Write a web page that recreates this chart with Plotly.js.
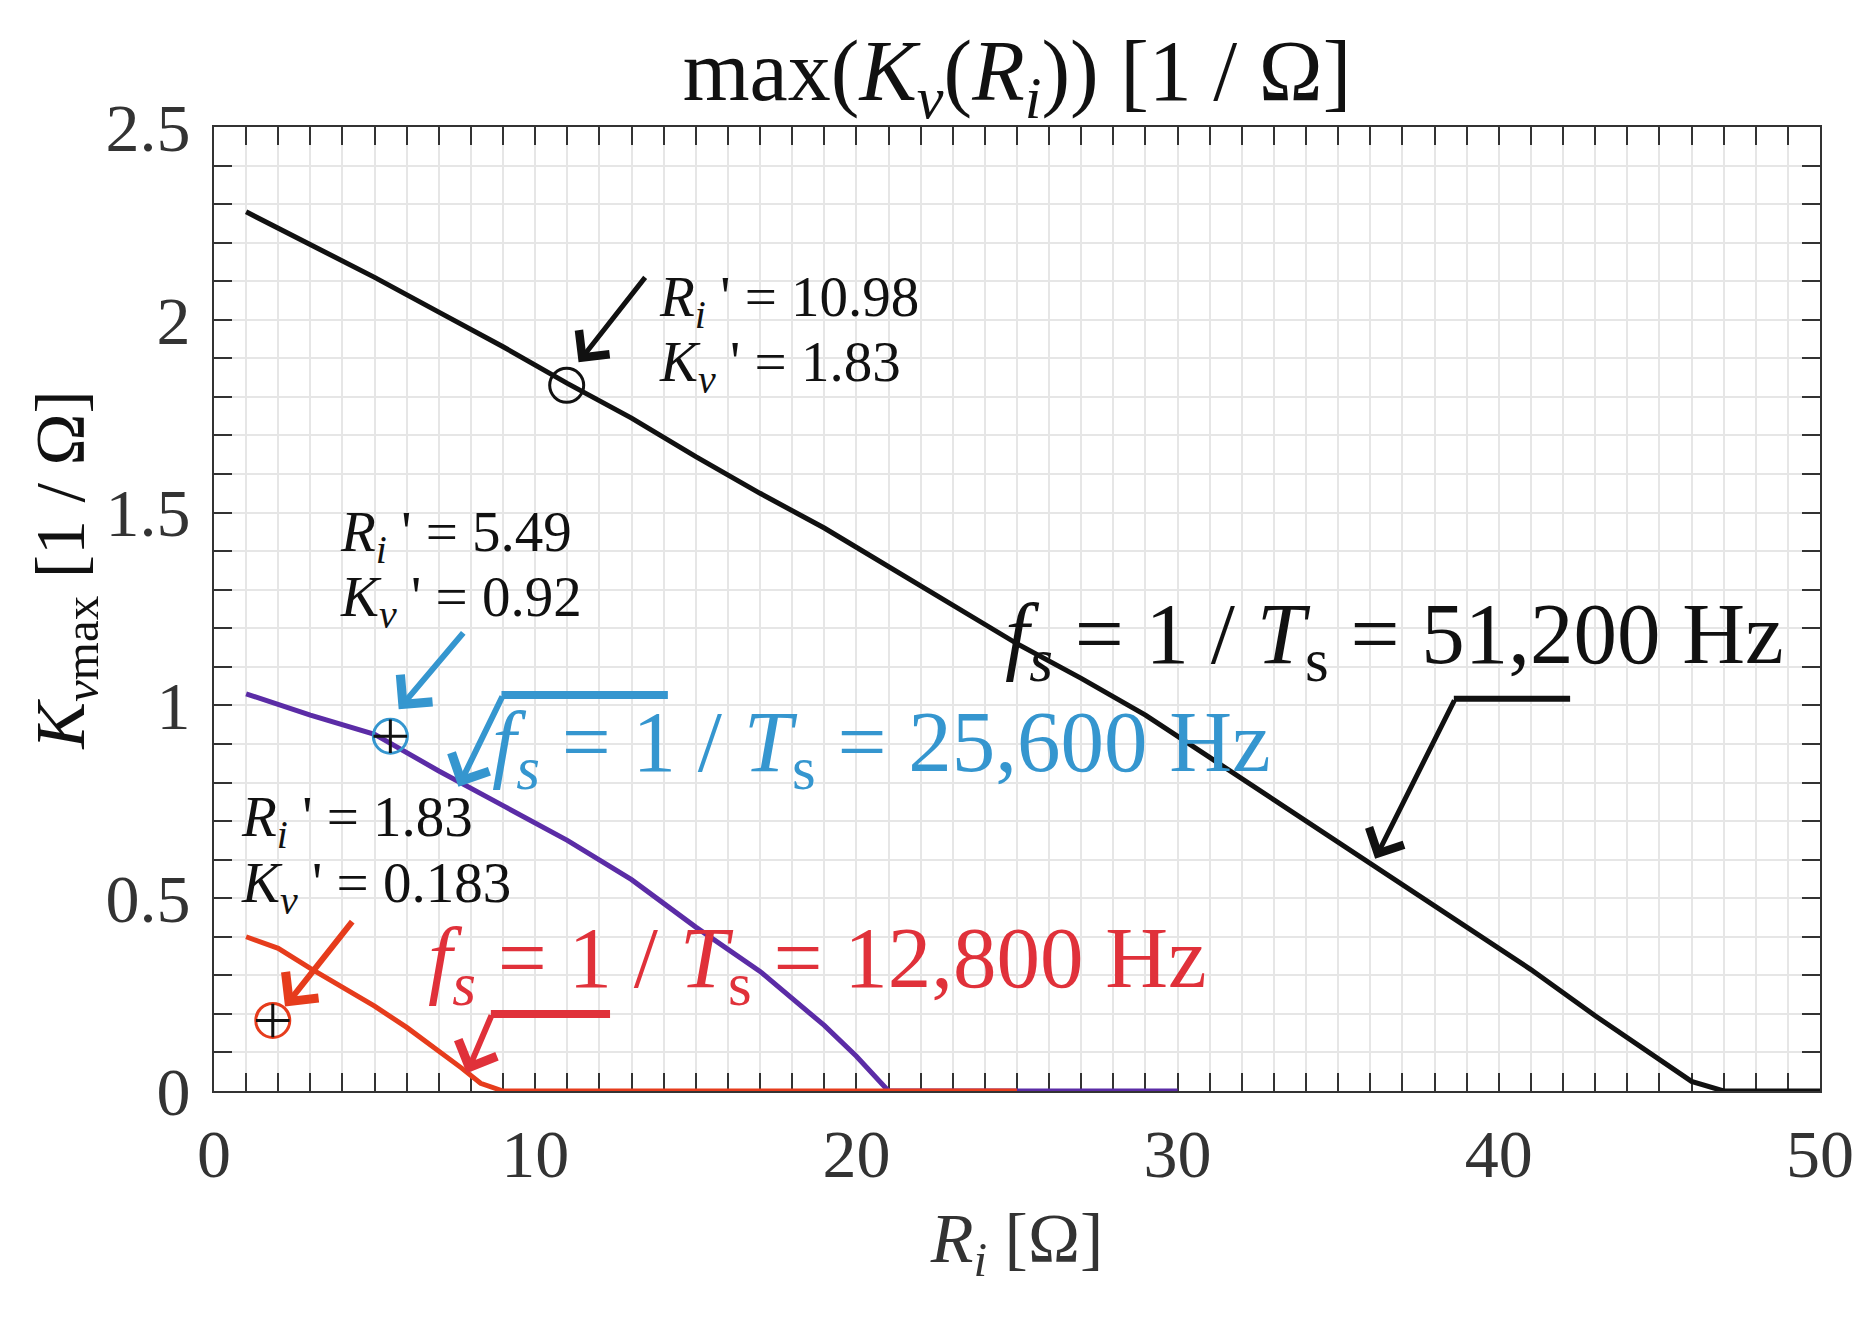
<!DOCTYPE html>
<html>
<head>
<meta charset="utf-8">
<script src="https://cdn.plot.ly/plotly-3.0.1.min.js"></script>
<style>html,body{margin:0;padding:0;background:#fff;}</style>
</head>
<body>
<div id="chart" style="width:1874px;height:1323px;"></div>
<script>
// ---- data ----
const r51 = [1, 3, 5, 7, 9, 11, 13, 15, 17, 19, 21, 23, 25, 27, 29, 31, 33, 35, 37, 39, 41, 43, 45, 46, 47, 50];
const k51 = [2.28, 2.195, 2.11, 2.02, 1.93, 1.835, 1.745, 1.645, 1.55, 1.46, 1.36, 1.26, 1.16, 1.07, 0.975, 0.865, 0.755, 0.645, 0.535, 0.425, 0.315, 0.195, 0.08, 0.025, 0, 0];

const r25 = [1, 3, 5, 7, 9, 11, 13, 15, 17, 18, 19, 20, 21, 30];
const k25 = [1.03, 0.975, 0.925, 0.83, 0.74, 0.65, 0.548, 0.425, 0.31, 0.24, 0.17, 0.09, 0, 0];

const r12 = [1, 2, 3, 4, 5, 6, 7, 7.7, 8.3, 9, 25];
const k12 = [0.40, 0.37, 0.318, 0.27, 0.22, 0.165, 0.105, 0.06, 0.02, 0, 0];

const seriesNames = ['f_s = 51,200 Hz', 'f_s = 25,600 Hz', 'f_s = 12,800 Hz'];

// marked optimum points
const optR = [10.98, 5.49, 1.83];
const optK = [1.83, 0.92, 0.183];
const optLabelR = ['10.98', '5.49', '1.83'];
const optLabelK = ['1.83', '0.92', '0.183'];

const xTitle = '<i>R</i><sub><i>i</i></sub> [Ω]';
const yTitle = '<i>K</i><sub><i>v</i>max</sub> [1 / Ω]';
const mainTitle = 'max(<i>K</i><sub><i>v</i></sub>(<i>R</i><sub><i>i</i></sub>)) [1 / Ω]';

// ---- styling ----
const SERIF = 'Liberation Serif, Times New Roman, serif';
const BLACK = '#111111';
const PURPLE = '#5b2ca6';
const BLUE = '#3596cf';
const RED_LINE = '#e63c1c';
const RED_TEXT = '#e0313a';

const traces = [
  {x: r51, y: k51, mode: 'lines', name: seriesNames[0], line: {color: BLACK, width: 5}},
  {x: r25, y: k25, mode: 'lines', name: seriesNames[1], line: {color: PURPLE, width: 5}},
  {x: r12, y: k12, mode: 'lines', name: seriesNames[2], line: {color: RED_LINE, width: 5}},
  // circles at optimum points
  {x: [optR[0]], y: [optK[0]], mode: 'markers', showlegend: false, cliponaxis: false,
   marker: {symbol: 'circle-open', size: 34, color: BLACK, line: {width: 3, color: BLACK}}},
  {x: [optR[1]], y: [optK[1]], mode: 'markers', showlegend: false, cliponaxis: false,
   marker: {symbol: 'circle-open', size: 34, color: BLUE, line: {width: 3, color: BLUE}}},
  {x: [optR[2]], y: [optK[2]], mode: 'markers', showlegend: false, cliponaxis: false,
   marker: {symbol: 'circle-open', size: 34, color: RED_LINE, line: {width: 3, color: RED_LINE}}},
  {x: [optR[1], optR[2]], y: [optK[1], optK[2]], mode: 'markers', showlegend: false, cliponaxis: false,
   marker: {symbol: 'cross-thin-open', size: 24, color: BLACK, line: {width: 3, color: BLACK}}}
];

function labelAnn(x, y, text, color, size) {
  return {x: x, y: y, xref: 'x', yref: 'y', text: text, showarrow: false,
          xanchor: 'left', yanchor: 'middle', font: {family: SERIF, size: size, color: color}};
}
function arrowAnn(hx, hy, tx, ty, color, width, size) {
  return {x: hx, y: hy, ax: tx, ay: ty, xref: 'x', yref: 'y', axref: 'x', ayref: 'y',
          text: '', showarrow: true, arrowhead: 4, arrowsize: size, arrowwidth: width,
          arrowcolor: color, standoff: 0, startstandoff: 0};
}

const annotations = [
  labelAnn(13.8, 2.05, '<i>R</i><sub><i>i</i></sub> \' = ' + optLabelR[0], BLACK, 57),
  labelAnn(13.8, 1.88, '<i>K</i><sub><i>v</i></sub> \' = ' + optLabelK[0], BLACK, 57),
  labelAnn(3.85, 1.44, '<i>R</i><sub><i>i</i></sub> \' = ' + optLabelR[1], BLACK, 57),
  labelAnn(3.85, 1.27, '<i>K</i><sub><i>v</i></sub> \' = ' + optLabelK[1], BLACK, 57),
  labelAnn(0.78, 0.70, '<i>R</i><sub><i>i</i></sub> \' = ' + optLabelR[2], BLACK, 57),
  labelAnn(0.78, 0.53, '<i>K</i><sub><i>v</i></sub> \' = ' + optLabelK[2], BLACK, 57),
  labelAnn(24.55, 1.17, '<i>f</i><sub><i>s</i></sub> = 1 / <i>T</i><sub>s</sub> = 51,200 Hz', BLACK, 87),
  labelAnn(8.6, 0.89, '<i>f</i><sub><i>s</i></sub> = 1 / <i>T</i><sub>s</sub> = 25,600 Hz', BLUE, 87),
  labelAnn(6.6, 0.33, '<i>f</i><sub><i>s</i></sub> = 1 / <i>T</i><sub>s</sub> = 12,800 Hz', RED_TEXT, 87),
  // y axis title placed like the reference (slightly above plot centre)
  {xref: 'paper', yref: 'paper', x: -0.092, y: 0.54, text: yTitle, showarrow: false, textangle: -90,
   xanchor: 'center', yanchor: 'middle', font: {family: SERIF, size: 70, color: BLACK}},
  // straight arrows to the marked points
  arrowAnn(11.35, 1.89, 13.46, 2.114, BLACK, 5, 1.5),
  arrowAnn(5.75, 0.99, 7.8, 1.192, BLUE, 6, 1.35),
  arrowAnn(2.21, 0.219, 4.34, 0.443, RED_LINE, 6, 1.35),
  // bent arrows to the curves
  arrowAnn(7.61, 0.789, 9.0, 1.027, BLUE, 6, 1.35),
  arrowAnn(7.87, 0.046, 8.66, 0.2, RED_TEXT, 6, 1.35),
  arrowAnn(36.15, 0.602, 38.64, 1.017, BLACK, 5, 1.5)
];

const shapes = [
  {type: 'line', xref: 'x', yref: 'y', x0: 8.95, y0: 1.027, x1: 14.13, y1: 1.027, line: {color: BLUE, width: 8}},
  {type: 'line', xref: 'x', yref: 'y', x0: 8.62, y0: 0.2, x1: 12.33, y1: 0.2, line: {color: RED_TEXT, width: 8}},
  {type: 'line', xref: 'x', yref: 'y', x0: 38.6, y0: 1.017, x1: 42.22, y1: 1.017, line: {color: BLACK, width: 6}}
];

const axisCommon = {
  ticks: 'inside', ticklen: 18, tickwidth: 2, tickcolor: '#333',
  showline: true, linecolor: '#333', linewidth: 2, mirror: 'allticks',
  showgrid: true, gridcolor: '#e6e6e6', gridwidth: 2, zeroline: false,
  tickfont: {family: SERIF, size: 68, color: '#333'},
  layer: 'below traces', automargin: false
};

const layout = {
  width: 1874, height: 1323,
  margin: {l: 214, r: 54, t: 127, b: 232},
  paper_bgcolor: '#fff', plot_bgcolor: '#fff',
  showlegend: false,
  title: {text: mainTitle, x: 0.5, xref: 'paper', y: 1 - 70 / 1323, yref: 'container', yanchor: 'middle',
          font: {family: SERIF, size: 86, color: BLACK}},
  xaxis: Object.assign({}, axisCommon, {
    range: [0, 50], tick0: 0, dtick: 10, ticklabelstandoff: 2,
    minor: {dtick: 1, ticks: 'inside', ticklen: 18, tickwidth: 2, tickcolor: '#333',
            showgrid: true, gridcolor: '#e6e6e6', gridwidth: 2},
    title: {text: xTitle, standoff: 22, font: {family: SERIF, size: 70, color: '#333'}}
  }),
  yaxis: Object.assign({}, axisCommon, {
    range: [0, 2.5], tick0: 0, dtick: 0.5, ticklabelstandoff: 8,
    minor: {dtick: 0.1, ticks: 'inside', ticklen: 18, tickwidth: 2, tickcolor: '#333',
            showgrid: true, gridcolor: '#e6e6e6', gridwidth: 2},
    title: {text: ''}
  }),
  annotations: annotations,
  shapes: shapes
};

Plotly.newPlot('chart', traces, layout, {displayModeBar: false, staticPlot: true});
</script>
</body>
</html>
